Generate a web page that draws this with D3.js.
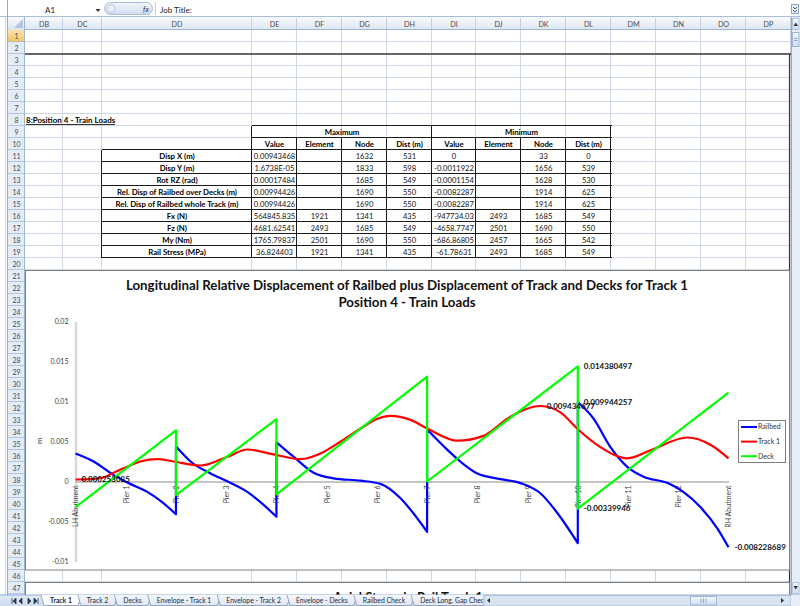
<!DOCTYPE html>
<html><head><meta charset="utf-8">
<script src="https://cdn.jsdelivr.net/npm/d3@7/dist/d3.min.js"></script>
<style>
html,body{margin:0;padding:0;background:#fff;overflow:hidden}
text{font-family:Lato,"Open Sans",sans-serif}
</style></head>
<body><svg id="s" width="800" height="606" xmlns="http://www.w3.org/2000/svg"></svg>
<script>
// ================= DATA =================
const columnNames = ["DB","DC","DD","DE","DF","DG","DH","DI","DJ","DK","DL","DM","DN","DO","DP"];
const rowCount = 47;
const nameBox = "A1";
const formulaText = "Job Title:";
const sectionTitle = "8:Position 4 - Train Loads";
const groupHeaders = ["Maximum","Minimum"];
const fieldHeaders = ["Value","Element","Node","Dist (m)"];
const quantities = ["Disp X (m)","Disp Y (m)","Rot RZ (rad)","Rel. Disp of Railbed over Decks (m)","Rel. Disp of Railbed whole Track (m)","Fx (N)","Fz (N)","My (Nm)","Rail Stress (MPa)"];
const maxValue   = ["0.00943468","1.6738E-05","0.00017484","0.00994426","0.00994426","564845.835","4681.62541","1765.79837","36.824403"];
const maxElement = ["","","","","","1921","2493","2501","1921"];
const maxNode    = ["1632","1833","1685","1690","1690","1341","1685","1690","1341"];
const maxDist    = ["531","598","549","550","550","435","549","550","435"];
const minValue   = ["0","-0.0011922","-0.0001154","-0.0082287","-0.0082287","-947734.03","-4658.7747","-686.86805","-61.78631"];
const minElement = ["","","","","","2493","2501","2457","2493"];
const minNode    = ["33","1656","1628","1914","1914","1685","1690","1665","1685"];
const minDist    = ["0","539","530","625","625","549","550","542","549"];

const chartTitle = ["Longitudinal Relative Displacement of Railbed plus Displacement of Track and Decks for Track 1","Position 4 - Train Loads"];
const nextChartTitle = "Axial Stress in Rail Track 1";
const yAxisTitle = "m";
const piers = ["LH Abutment","Pier 1","Pier 2","Pier 3","Pier 4","Pier 5","Pier 6","Pier 7","Pier 8","Pier 9","Pier 10","Pier 11","Pier 12","RH Abutment"];
const yTicks = [-0.01,-0.005,0,0.005,0.01,0.015,0.02];
const seriesNames = ["Railbed","Track 1","Deck"];

// x in pier-index units (LH Abutment = 0 ... RH Abutment = 13)
const railbedX = [0,0.36,0.76,1.04,1.43,1.75,2,
                  2,2.29,2.69,3.03,3.42,3.74,4,
                  4,4.34,4.74,5.14,5.67,6.07,6.47,6.73,7,
                  7,7.33,7.66,8.0,8.46,8.86,9.26,9.6,10,
                  10,10.31,10.65,10.99,11.31,11.79,12.1,12.44,12.78,13];
const railbedY = [0.0035,0.0025,0.0008,-0.00015,-0.0013,-0.0027,-0.0041,
                  0.0044,0.0025,0.001,0,-0.0013,-0.0029,-0.0044,
                  0.0049,0.0031,0.0011,0.0004,0.0001,-0.0003,-0.0021,-0.004,-0.0063,
                  0.0065,0.0044,0.0025,0.001,0.0003,-0.0002,-0.0015,-0.004,-0.0077,
                  0.009944257,0.0079,0.0043,0.0018,0.0006,-0.0002,-0.0013,-0.0032,-0.0059,-0.008228689];
const trackX = [0,0.30,0.56,0.76,0.96,1.29,1.63,1.95,2.49,3.03,3.42,3.94,4.48,4.94,5.28,5.67,6.0,6.27,6.67,7.01,7.61,8.12,8.66,9.26,9.66,9.99,10.45,10.99,11.45,12.18,12.64,13];
const trackY = [0.000253085,0.0003,0.0005,0.0011,0.00165,0.0025,0.0028,0.0025,0.002,0.0031,0.004,0.0034,0.0028,0.0037,0.005,0.0066,0.0078,0.0082,0.0077,0.0066,0.0051,0.0057,0.0081,0.009434677,0.0086,0.0066,0.0043,0.0029,0.0039,0.0055,0.0046,0.0029];
const deckX = [0,2,2,4,4,7,7,10,10,13];
const deckY = [-0.0032,0.0064,-0.0017,0.0078,-0.0016,0.0131,0,0.014380497,-0.00339946,0.0111];
// labelled points: [series, index]
const labelledPoints = [["Track 1",0],["Track 1",23],["Deck",7],["Railbed",32],["Deck",8],["Railbed",41]];

const sheetTabs = ["Track 1","Track 2","Decks","Envelope - Track 1","Envelope - Track 2","Envelope - Decks","Railbed Check","Deck Long. Gap Check"];

// ================= DRAWING =================
const svg = d3.select("#s");
const FONT = "Lato, 'Open Sans', sans-serif";
const defs = svg.append("defs");
function vgrad(id, c1, c2){
  const g = defs.append("linearGradient").attr("id",id).attr("x1",0).attr("x2",0).attr("y1",0).attr("y2",1);
  g.append("stop").attr("offset","0%").attr("stop-color",c1);
  g.append("stop").attr("offset","100%").attr("stop-color",c2);
}
vgrad("hdr","#f8fafd","#dde5f0");
vgrad("sel","#fbe3ac","#f2c466");
vgrad("pill","#f3f7fc","#cfdcee");
vgrad("tabbar","#e2eaf6","#cddbee");
vgrad("tab","#f4f7fb","#dfe7f2");
vgrad("thumb","#f4f8fd","#cfdcee");

const colEdges = [25,63,102,252,297,342,387,432,476,521,566,611,656,701,746,791];
const rowY = n => 30 + (n-1)*12;
const GRID = "#d0d7e5", HLINE = "#9eb6ce", HTXT = "#4c4c4c";

svg.append("rect").attr("width",800).attr("height",606).attr("fill","#fff");

// ---- gridlines
const grid = svg.append("g").attr("stroke",GRID).attr("shape-rendering","crispEdges");
colEdges.slice(1).forEach(cx => grid.append("line").attr("x1",cx-0.5).attr("x2",cx-0.5).attr("y1",30).attr("y2",595));
d3.range(2, rowCount+2).forEach(n => grid.append("line").attr("x1",25).attr("x2",791).attr("y1",rowY(n)-0.5).attr("y2",rowY(n)-0.5));

// ---- formula bar
svg.append("rect").attr("x",0).attr("y",0).attr("width",800).attr("height",17).attr("fill","#fff");
svg.append("text").attr("x",50).attr("y",13).attr("text-anchor","middle").attr("font-size",8).attr("fill","#222").text(nameBox);
svg.append("path").attr("d","M95.5,9 L100.5,9 L98,12 Z").attr("fill","#333");
svg.append("rect").attr("x",104.5).attr("y",2.5).attr("width",48).attr("height",12).attr("rx",6).attr("fill","url(#pill)").attr("stroke","#a7bcd8");
svg.append("circle").attr("cx",111).attr("cy",8.5).attr("r",4).attr("fill","#e9f0f9").attr("stroke","#b8c9e0");
svg.append("text").attr("x",146).attr("y",12).attr("text-anchor","middle").attr("font-size",7.5).attr("font-style","italic").attr("fill","#333").attr("font-family","'Liberation Serif',serif").text("fx");
svg.append("line").attr("x1",155.5).attr("x2",155.5).attr("y1",2).attr("y2",15).attr("stroke","#c8d5e6");
svg.append("text").attr("x",160).attr("y",12.5).attr("font-size",8).attr("fill","#222").text(formulaText);
svg.append("line").attr("x1",0).attr("x2",800).attr("y1",16.5).attr("y2",16.5).attr("stroke","#a9bfd9");
// small expand button top-right
svg.append("rect").attr("x",791.5).attr("y",4.5).attr("width",7).attr("height",9).attr("fill","#e6eef8").attr("stroke","#8ea8cc");
svg.append("path").attr("d","M793,7 L795,9 L797,7 M793,10 L795,12 L797,10").attr("fill","none").attr("stroke","#333").attr("stroke-width",0.8);

// ---- column headers
svg.append("rect").attr("x",8).attr("y",17).attr("width",783).attr("height",13).attr("fill","url(#hdr)");
const ch = svg.append("g");
columnNames.forEach((c,i) => {
  ch.append("text").attr("x",(colEdges[i]+colEdges[i+1])/2).attr("y",26.5).attr("text-anchor","middle")
    .attr("font-size",7.2).attr("fill",HTXT).text(c);
  ch.append("line").attr("x1",colEdges[i+1]-0.5).attr("x2",colEdges[i+1]-0.5).attr("y1",18).attr("y2",30).attr("stroke","#c2cfe0");
});
svg.append("line").attr("x1",8).attr("x2",791).attr("y1",29.5).attr("y2",29.5).attr("stroke",HLINE);
// corner
svg.append("rect").attr("x",8).attr("y",17).attr("width",17).attr("height",13).attr("fill","url(#hdr)");
svg.append("path").attr("d","M23,19 L23,28 L14,28 Z").attr("fill","#b4c6dd");

// ---- row headers
svg.append("rect").attr("x",8).attr("y",30).attr("width",17).attr("height",565).attr("fill","#e4ecf7");
svg.append("rect").attr("x",8).attr("y",30).attr("width",17).attr("height",12).attr("fill","url(#sel)");
const rh = svg.append("g");
d3.range(1, rowCount+1).forEach(n => {
  rh.append("text").attr("x",16.5).attr("y",rowY(n)+9).attr("text-anchor","middle").attr("font-size",7).attr("fill",HTXT).text(n);
  rh.append("line").attr("x1",8).attr("x2",25).attr("y1",rowY(n+1)-0.5).attr("y2",rowY(n+1)-0.5).attr("stroke",HLINE).attr("stroke-width",0.7);
});
svg.append("line").attr("x1",24.5).attr("x2",24.5).attr("y1",17).attr("y2",595).attr("stroke",HLINE);
svg.append("line").attr("x1",7.5).attr("x2",7.5).attr("y1",0).attr("y2",606).attr("stroke","#8eabd3");
svg.append("line").attr("x1",5.5).attr("x2",5.5).attr("y1",17).attr("y2",606).attr("stroke","#c9d8ec");

// ---- row 8 title
svg.append("text").attr("x",26).attr("y",rowY(8)+9).attr("font-size",8).attr("font-weight","bold")
  .attr("text-decoration","underline").attr("fill","#000").text(sectionTitle);

// ---- table
const tbl = svg.append("g");
const cx = i => (colEdges[i]+colEdges[i+1])/2;
const TFS = 7.8;
tbl.append("text").attr("x",(colEdges[3]+colEdges[7])/2).attr("y",rowY(9)+9).attr("text-anchor","middle").attr("font-size",TFS).attr("font-weight","bold").text(groupHeaders[0]);
tbl.append("text").attr("x",(colEdges[7]+colEdges[11])/2).attr("y",rowY(9)+9).attr("text-anchor","middle").attr("font-size",TFS).attr("font-weight","bold").text(groupHeaders[1]);
[0,1].forEach(g => fieldHeaders.forEach((f,j) => {
  tbl.append("text").attr("x",cx(3+g*4+j)).attr("y",rowY(10)+9).attr("text-anchor","middle").attr("font-size",TFS).attr("font-weight","bold").text(f);
}));
const cols = [maxValue,maxElement,maxNode,maxDist,minValue,minElement,minNode,minDist];
quantities.forEach((q,r) => {
  const yy = rowY(11+r)+9;
  tbl.append("text").attr("x",cx(2)).attr("y",yy).attr("text-anchor","middle").attr("font-size",TFS).attr("font-weight","bold").text(q);
  cols.forEach((arr,j) => {
    tbl.append("text").attr("x",cx(3+j)).attr("y",yy).attr("text-anchor","middle").attr("font-size",7.6).attr("fill","#111").text(arr[r]);
  });
});
const tl = svg.append("g").attr("stroke","#1a1a1a").attr("stroke-width",1).attr("shape-rendering","crispEdges");
const hl = (x1,x2,yy) => tl.append("line").attr("x1",x1).attr("x2",x2).attr("y1",yy-0.5).attr("y2",yy-0.5);
const vl = (xx,y1,y2) => tl.append("line").attr("x1",xx-0.5).attr("x2",xx-0.5).attr("y1",y1).attr("y2",y2);
hl(colEdges[3], colEdges[11]+1, rowY(9));
hl(colEdges[3], colEdges[11]+1, rowY(10));
d3.range(11, 21).forEach(n => hl(colEdges[2], colEdges[11]+1, rowY(n)));
[3,7,11].forEach(i => vl(colEdges[i], rowY(9), rowY(20)));
[4,5,6,8,9,10].forEach(i => vl(colEdges[i], rowY(10), rowY(20)));
vl(colEdges[2], rowY(11), rowY(20));

// ---- page border
svg.append("line").attr("x1",25).attr("x2",791).attr("y1",54).attr("y2",54).attr("stroke","#3a3a3a").attr("stroke-width",1.5);
svg.append("line").attr("x1",789.5).attr("x2",789.5).attr("y1",54).attr("y2",595).attr("stroke","#3a3a3a").attr("stroke-width",1.2);

// ---- chart 2 (mostly hidden below the sheet tabs)
const c2clip = defs.append("clipPath").attr("id","c2clip");
c2clip.append("rect").attr("x",25).attr("y",582).attr("width",766).attr("height",13);
svg.append("rect").attr("x",25.5).attr("y",582.5).attr("width",764).attr("height",30).attr("fill","#fff").attr("stroke","#808080");
svg.append("g").attr("clip-path","url(#c2clip)")
  .append("text").attr("x",408).attr("y",602).attr("text-anchor","middle").attr("font-size",13).attr("font-weight","bold").attr("fill","#111").text(nextChartTitle);

// ---- chart 1
svg.append("rect").attr("x",25.5).attr("y",270.5).attr("width",764).attr("height",299.5).attr("fill","#fff").attr("stroke","#808080");
const chart = svg.append("g");
const x = d3.scaleLinear().domain([0, piers.length-1]).range([75.5, 728.5]);
const y = d3.scaleLinear().domain([-0.01, 0.02]).range([561.5, 321.5]);

// title
const tt = chart.append("g").attr("font-weight","bold").attr("fill","#111");
const t1 = tt.append("text").attr("x",407).attr("y",290).attr("text-anchor","middle").attr("font-size",13).text(chartTitle[0]);
const w1 = t1.node().getComputedTextLength();
const tfs = 13*563/w1;
t1.attr("font-size",tfs);
tt.append("text").attr("x",407).attr("y",307).attr("text-anchor","middle").attr("font-size",tfs).text(chartTitle[1]);

// y axis
const gy = chart.append("g").attr("transform",`translate(${x(0)},0)`)
  .call(d3.axisLeft(y).tickValues(yTicks).tickSize(0).tickPadding(7).tickFormat(d => String(d)));
gy.attr("font-family",FONT).attr("font-size",7);
gy.select(".domain").attr("stroke","#d9d9d9").attr("stroke-width",2.5);
gy.selectAll("text").attr("fill","#404040");
chart.append("text").attr("transform","translate(42,441) rotate(-90)").attr("text-anchor","middle").attr("font-size",7.5).attr("fill","#404040").text(yAxisTitle);

// x axis
const gx = chart.append("g").attr("transform",`translate(0,${y(0)})`)
  .call(d3.axisBottom(x).tickValues(d3.range(piers.length)).tickFormat(i => piers[i]).tickSize(0));
gx.attr("font-family",FONT).attr("font-size",7);
gx.select(".domain").attr("stroke","#8c8c8c").attr("stroke-width",1.2);
gx.selectAll("text").attr("fill","#404040").attr("transform","rotate(-90)").attr("text-anchor","end")
  .attr("x",-4).attr("y",0).attr("dy","0.35em");

// series
function seriesPath(xs, ys, curve){
  const pts = xs.map((v,i) => [v, ys[i]]);
  const runs = []; let cur = [pts[0]];
  for (let i=1;i<pts.length;i++){
    if (pts[i][0] === pts[i-1][0]) { runs.push(cur); cur = [pts[i]]; } else cur.push(pts[i]);
  }
  runs.push(cur);
  const gen = d3.line().x(d => x(d[0])).y(d => y(d[1])).curve(curve);
  return runs.map((r,i) => { const s = gen(r); return i ? "L" + s.slice(1) : s; }).join("");
}
const series = {
  "Railbed": {xs: railbedX, ys: railbedY, color: "#0000ff", curve: d3.curveMonotoneX},
  "Track 1": {xs: trackX, ys: trackY, color: "#ff0000", curve: d3.curveMonotoneX},
  "Deck":    {xs: deckX, ys: deckY, color: "#00ff00", curve: d3.curveLinear}
};
seriesNames.forEach(n => {
  const s = series[n];
  chart.append("path").attr("d", seriesPath(s.xs, s.ys, s.curve)).attr("fill","none")
    .attr("stroke", s.color).attr("stroke-width",2.2).attr("stroke-linejoin","round");
});

// data labels
labelledPoints.forEach(([n,i]) => {
  const s = series[n];
  chart.append("text").attr("x", x(s.xs[i]) + 6).attr("y", y(s.ys[i])).attr("dy","0.35em")
    .attr("font-size",8).attr("font-weight","bold").attr("fill","#111").text(String(s.ys[i]));
});

// legend
const lg = chart.append("g");
lg.append("rect").attr("x",738.5).attr("y",420.5).attr("width",47).attr("height",42).attr("fill","#fff").attr("stroke","#7f7f7f");
seriesNames.forEach((n,i) => {
  const yy = 427 + i*14.6;
  lg.append("line").attr("x1",741).attr("x2",757).attr("y1",yy).attr("y2",yy).attr("stroke",series[n].color).attr("stroke-width",2);
  lg.append("text").attr("x",758).attr("y",yy).attr("dy","0.35em").attr("font-size",7).attr("fill","#333").text(n);
});

// ---- vertical scrollbar
svg.append("rect").attr("x",791).attr("y",17).attr("width",9).attr("height",578).attr("fill","#e7eef8");
svg.append("line").attr("x1",791.5).attr("x2",791.5).attr("y1",17).attr("y2",595).attr("stroke","#8eabd3");
svg.append("rect").attr("x",792.5).attr("y",18.5).attr("width",6.5).attr("height",11).attr("fill","url(#thumb)").attr("stroke","#b3c6e0");
svg.append("path").attr("d","M793.5,26 L795.75,22.5 L798,26 Z").attr("fill","#333");
svg.append("rect").attr("x",792.5).attr("y",32.5).attr("width",6.5).attr("height",14).attr("fill","url(#thumb)").attr("stroke","#9fb6d6");
svg.append("path").attr("d","M794,38.5 H797.5 M794,40.5 H797.5").attr("stroke","#8ea8cc");
svg.append("rect").attr("x",792.5).attr("y",582.5).attr("width",6.5).attr("height",11).attr("fill","url(#thumb)").attr("stroke","#b3c6e0");
svg.append("path").attr("d","M793.5,586 L795.75,589.5 L798,586 Z").attr("fill","#333");

// ---- sheet tab bar
svg.append("rect").attr("x",0).attr("y",595).attr("width",800).attr("height",11).attr("fill","url(#tabbar)");
svg.append("line").attr("x1",0).attr("x2",800).attr("y1",595).attr("y2",595).attr("stroke","#8eabd3");
// navigation buttons
const nav = svg.append("g").attr("fill","#2a3a55");
nav.append("path").attr("d","M12,598 V604 M16,598 L13,601 L16,604 Z");
nav.append("path").attr("d","M22,598 L19,601 L22,604 Z");
nav.append("path").attr("d","M28,598 L31,601 L28,604 Z");
nav.append("path").attr("d","M34,598 L37,601 L34,604 Z M38,598 V604");
nav.selectAll("path").attr("stroke","#2a3a55").attr("stroke-width",0.8);
const tabs = svg.append("g");
const clip = defs.append("clipPath").attr("id","tabclip");
clip.append("rect").attr("x",0).attr("y",590).attr("width",483).attr("height",16);
tabs.attr("clip-path","url(#tabclip)");
let cursor = 50;
const tabPos = [];
sheetTabs.forEach((name,i) => {
  const t = tabs.append("text").attr("x",cursor).attr("y",602.5).attr("font-size",6.8)
    .attr("font-weight", i===0 ? "bold" : "normal").attr("fill","#1a2a44").text(name);
  const w = t.node().getComputedTextLength();
  tabPos.push([cursor, w]);
  cursor += w + 15;
});
// tab shapes drawn behind text
tabPos.forEach(([sx,w],i) => {
  const l = sx-6, r = sx+w+6;
  tabs.insert("path","text").attr("d",`M${l-3},595 L${l},605.5 L${r},605.5 L${r+4},595`)
    .attr("fill", i===0 ? "#ffffff" : "url(#tab)").attr("stroke","#8294b0").attr("stroke-width",0.8);
});
// horizontal scrollbar
svg.append("rect").attr("x",484).attr("y",595.5).attr("width",307).attr("height",10.5).attr("fill","#d9e4f2").attr("stroke","#a9bfd9");
svg.append("path").attr("d","M490,598 L487,600.5 L490,603 Z").attr("fill","#333");
svg.append("path").attr("d","M781,598 L784,600.5 L781,603 Z").attr("fill","#333");
svg.append("rect").attr("x",690.5).attr("y",596.5).attr("width",26).attr("height",8.5).attr("fill","url(#thumb)").attr("stroke","#9fb6d6");
svg.append("path").attr("d","M701,598.5 V603 M703.5,598.5 V603 M706,598.5 V603").attr("stroke","#8ea8cc");
svg.append("rect").attr("x",791).attr("y",595).attr("width",9).attr("height",11).attr("fill","#e7eef8");
</script>
</body></html>
